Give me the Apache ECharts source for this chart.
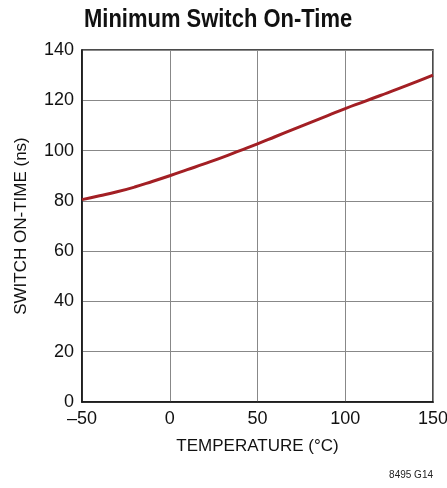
<!DOCTYPE html>
<html><head><meta charset="utf-8">
<script src="https://cdn.jsdelivr.net/npm/echarts@6/dist/echarts.min.js"></script>
<style>html,body{margin:0;padding:0;background:#fff}#c{width:447px;height:488px}</style>
</head><body><div id="c"></div>
<script>
const temperatures = [-50,-40,-30,-20,-10,0,10,20,30,40,50,60,70,80,90,100,110,120,130,140,150];
const onTimeNs = [80.5,82,83.6,85.5,87.7,90,92.4,94.8,97.3,100,102.7,105.5,108.3,111.1,113.9,116.7,119.3,121.9,124.5,127.2,130];
const xTicks = [-50,0,50,100,150];
const yTicks = [0,20,40,60,80,100,120,140];
const titleText = 'Minimum Switch On-Time';
const FONT = '"Liberation Sans Narrow", "Liberation Sans", Arial, sans-serif';
const chart = echarts.init(document.getElementById('c'));
chart.setOption({
  animation:false,
  graphic:[
    {type:'text',x:84,y:7,scaleX:0.845,style:{text:titleText,font:'bold 26px "Liberation Sans", Arial, sans-serif',fill:'#111'}},
    {type:'text',right:14,bottom:8,style:{text:'8495 G14',font:'10px '+FONT,fill:'#222'}}
  ],
  grid:{left:82,right:14,top:50,bottom:86,show:true,borderColor:'#111',borderWidth:1.5,containLabel:false,outerBoundsMode:'none'},
  xAxis:{type:'value',min:-50,max:150,interval:50,name:'TEMPERATURE (°C)',nameLocation:'middle',nameGap:36,
    nameTextStyle:{fontFamily:FONT,fontSize:17,color:'#111'},
    axisLine:{show:true,onZero:false,lineStyle:{color:'#111',width:1.5}},axisTick:{show:false},
    axisLabel:{fontFamily:FONT,fontSize:18,color:'#111',margin:8,formatter:v=>v<0?'\u2013'+Math.abs(v):String(v)},
    splitLine:{show:true,lineStyle:{color:'#888',width:1}}},
  yAxis:{type:'value',min:0,max:140,interval:20,name:'SWITCH ON-TIME (ns)',nameLocation:'middle',nameGap:52,
    nameTextStyle:{fontFamily:FONT,fontSize:17,color:'#111'},
    axisLine:{show:true,onZero:false,lineStyle:{color:'#111',width:1.5}},axisTick:{show:false},
    axisLabel:{fontFamily:FONT,fontSize:18,color:'#111',margin:8},
    splitLine:{show:true,lineStyle:{color:'#888',width:1}}},
  series:[{type:'line',data:temperatures.map((t,i)=>[t,onTimeNs[i]]),smooth:true,showSymbol:false,
    lineStyle:{color:'#a31f24',width:3}}]
});
</script></body></html>
